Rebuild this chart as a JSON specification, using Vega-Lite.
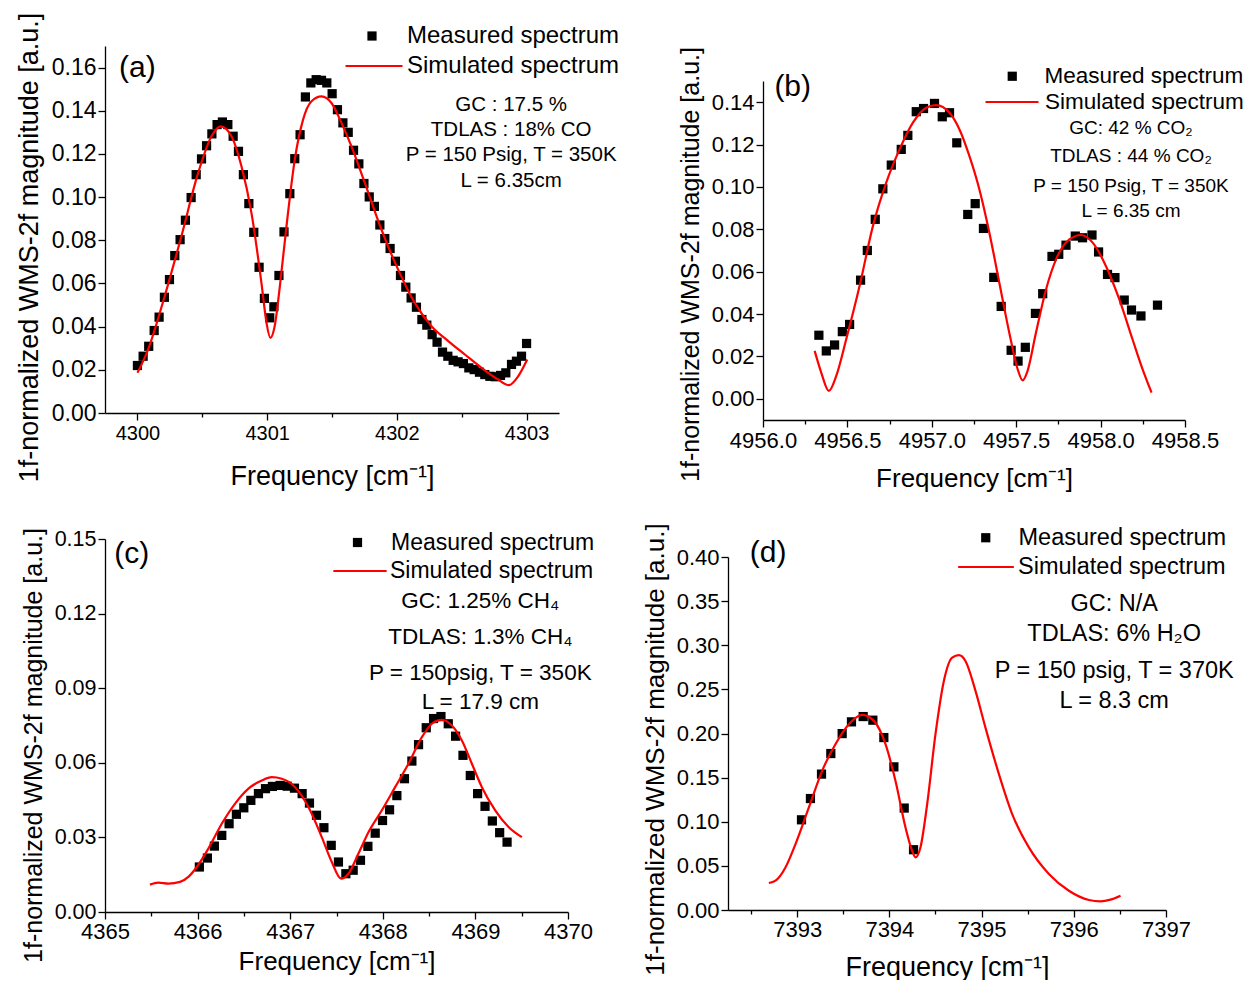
{
  "$schema": "https://vega.github.io/schema/vega-lite/v6.json",
  "padding": {"left": 15, "top": 12, "right": 0, "bottom": 0},
  "background": "white",
  "config": {
    "view": {"stroke": null},
    "font": "Liberation Sans",
    "axis": {"domainColor": "black", "domainWidth": 1.3, "tickColor": "black", "tickWidth": 1.3, "labelColor": "black", "titleColor": "black", "titleFontWeight": "normal", "grid": false, "labelFont": "Liberation Sans", "titleFont": "Liberation Sans", "labelOverlap": false, "labelBound": false, "labelFlush": false},
    "legend": {"labelFont": "Liberation Sans", "labelColor": "black", "padding": 0, "labelLimit": 500, "title": null, "orient": "none"}
  },
  "datasets": {
    "a_meas": [
      {"f":4300.000,"v":0.0220},{"f":4300.044,"v":0.0263},{"f":4300.087,"v":0.0309},{"f":4300.129,"v":0.0382},{"f":4300.167,"v":0.0444},{"f":4300.208,"v":0.0536},{"f":4300.247,"v":0.0618},{"f":4300.288,"v":0.0729},{"f":4300.329,"v":0.0803},{"f":4300.370,"v":0.0893},{"f":4300.414,"v":0.0998},{"f":4300.453,"v":0.1104},{"f":4300.494,"v":0.1177},{"f":4300.533,"v":0.1238},{"f":4300.574,"v":0.1293},{"f":4300.614,"v":0.1336},{"f":4300.655,"v":0.1348},{"f":4300.697,"v":0.1336},{"f":4300.738,"v":0.1282},{"f":4300.779,"v":0.1212},{"f":4300.817,"v":0.1104},{"f":4300.859,"v":0.0970},{"f":4300.897,"v":0.0837},{"f":4300.938,"v":0.0675},{"f":4300.979,"v":0.0531},{"f":4301.020,"v":0.0441},{"f":4301.052,"v":0.0492},{"f":4301.091,"v":0.0637},{"f":4301.130,"v":0.0839},{"f":4301.175,"v":0.1016},{"f":4301.213,"v":0.1178},{"f":4301.254,"v":0.1289},{"f":4301.295,"v":0.1464},{"f":4301.337,"v":0.1529},{"f":4301.378,"v":0.1544},{"f":4301.419,"v":0.1541},{"f":4301.460,"v":0.1529},{"f":4301.501,"v":0.1479},{"f":4301.542,"v":0.1405},{"f":4301.584,"v":0.1344},{"f":4301.625,"v":0.1300},{"f":4301.666,"v":0.1217},{"f":4301.707,"v":0.1154},{"f":4301.746,"v":0.1063},{"f":4301.787,"v":0.1001},{"f":4301.827,"v":0.0957},{"f":4301.869,"v":0.0871},{"f":4301.907,"v":0.0808},{"f":4301.948,"v":0.0762},{"f":4301.989,"v":0.0703},{"f":4302.028,"v":0.0637},{"f":4302.069,"v":0.0583},{"f":4302.110,"v":0.0533},{"f":4302.151,"v":0.0490},{"f":4302.193,"v":0.0433},{"f":4302.231,"v":0.0407},{"f":4302.272,"v":0.0363},{"f":4302.310,"v":0.0328},{"f":4302.352,"v":0.0282},{"f":4302.393,"v":0.0263},{"f":4302.434,"v":0.0244},{"f":4302.472,"v":0.0237},{"f":4302.513,"v":0.0229},{"f":4302.555,"v":0.0209},{"f":4302.596,"v":0.0201},{"f":4302.637,"v":0.0189},{"f":4302.678,"v":0.0178},{"f":4302.717,"v":0.0170},{"f":4302.758,"v":0.0168},{"f":4302.799,"v":0.0174},{"f":4302.840,"v":0.0186},{"f":4302.884,"v":0.0225},{"f":4302.922,"v":0.0240},{"f":4302.961,"v":0.0263},{"f":4303.000,"v":0.0322}
    ],
    "a_sim": [
      {"f":4300.000,"v":0.0186},{"f":4300.082,"v":0.0294},{"f":4300.210,"v":0.0541},{"f":4300.339,"v":0.0819},{"f":4300.468,"v":0.1112},{"f":4300.571,"v":0.1282},{"f":4300.643,"v":0.1328},{"f":4300.725,"v":0.1282},{"f":4300.802,"v":0.1143},{"f":4300.879,"v":0.0927},{"f":4300.956,"v":0.0603},{"f":4300.995,"v":0.0418},{"f":4301.025,"v":0.0348},{"f":4301.058,"v":0.0402},{"f":4301.098,"v":0.0587},{"f":4301.149,"v":0.0865},{"f":4301.213,"v":0.1174},{"f":4301.277,"v":0.1359},{"f":4301.342,"v":0.1444},{"f":4301.419,"v":0.1467},{"f":4301.496,"v":0.1436},{"f":4301.573,"v":0.1344},{"f":4301.650,"v":0.1235},{"f":4301.753,"v":0.1066},{"f":4301.881,"v":0.0850},{"f":4302.010,"v":0.0664},{"f":4302.138,"v":0.0510},{"f":4302.267,"v":0.0402},{"f":4302.396,"v":0.0333},{"f":4302.524,"v":0.0271},{"f":4302.653,"v":0.0209},{"f":4302.781,"v":0.0155},{"f":4302.863,"v":0.0129},{"f":4302.935,"v":0.0170},{"f":4303.005,"v":0.0248}
    ],
    "b_meas": [
      {"f":4956.331,"v":0.0300},{"f":4956.375,"v":0.0226},{"f":4956.424,"v":0.0254},{"f":4956.470,"v":0.0317},{"f":4956.513,"v":0.0351},{"f":4956.578,"v":0.0560},{"f":4956.618,"v":0.0700},{"f":4956.665,"v":0.0847},{"f":4956.710,"v":0.0991},{"f":4956.760,"v":0.1103},{"f":4956.819,"v":0.1177},{"f":4956.858,"v":0.1243},{"f":4956.908,"v":0.1355},{"f":4956.951,"v":0.1370},{"f":4957.016,"v":0.1394},{"f":4957.062,"v":0.1331},{"f":4957.105,"v":0.1350},{"f":4957.148,"v":0.1208},{"f":4957.213,"v":0.0870},{"f":4957.257,"v":0.0921},{"f":4957.306,"v":0.0804},{"f":4957.367,"v":0.0573},{"f":4957.411,"v":0.0436},{"f":4957.470,"v":0.0229},{"f":4957.511,"v":0.0178},{"f":4957.554,"v":0.0243},{"f":4957.614,"v":0.0403},{"f":4957.657,"v":0.0496},{"f":4957.712,"v":0.0672},{"f":4957.752,"v":0.0682},{"f":4957.795,"v":0.0725},{"f":4957.850,"v":0.0768},{"f":4957.893,"v":0.0760},{"f":4957.949,"v":0.0773},{"f":4957.988,"v":0.0693},{"f":4958.041,"v":0.0587},{"f":4958.085,"v":0.0572},{"f":4958.140,"v":0.0466},{"f":4958.183,"v":0.0419},{"f":4958.239,"v":0.0391},{"f":4958.337,"v":0.0442}
    ],
    "b_sim": [
      {"f":4956.306,"v":0.0226},{"f":4956.345,"v":0.0124},{"f":4956.390,"v":0.0037},{"f":4956.434,"v":0.0108},{"f":4956.493,"v":0.0281},{"f":4956.572,"v":0.0532},{"f":4956.651,"v":0.0815},{"f":4956.730,"v":0.1020},{"f":4956.809,"v":0.1177},{"f":4956.888,"v":0.1303},{"f":4956.967,"v":0.1374},{"f":4957.026,"v":0.1386},{"f":4957.105,"v":0.1350},{"f":4957.164,"v":0.1271},{"f":4957.223,"v":0.1145},{"f":4957.282,"v":0.0988},{"f":4957.341,"v":0.0784},{"f":4957.400,"v":0.0548},{"f":4957.459,"v":0.0312},{"f":4957.509,"v":0.0139},{"f":4957.538,"v":0.0087},{"f":4957.567,"v":0.0131},{"f":4957.617,"v":0.0312},{"f":4957.677,"v":0.0517},{"f":4957.736,"v":0.0658},{"f":4957.815,"v":0.0752},{"f":4957.884,"v":0.0773},{"f":4957.953,"v":0.0737},{"f":4958.032,"v":0.0626},{"f":4958.111,"v":0.0469},{"f":4958.189,"v":0.0281},{"f":4958.249,"v":0.0139},{"f":4958.302,"v":0.0029}
    ],
    "c_meas": [
      {"f":4366.019,"v":0.0181},{"f":4366.106,"v":0.0217},{"f":4366.181,"v":0.0265},{"f":4366.261,"v":0.0308},{"f":4366.340,"v":0.0355},{"f":4366.419,"v":0.0393},{"f":4366.499,"v":0.0419},{"f":4366.575,"v":0.0449},{"f":4366.657,"v":0.0476},{"f":4366.733,"v":0.0496},{"f":4366.808,"v":0.0505},{"f":4366.891,"v":0.0509},{"f":4366.967,"v":0.0506},{"f":4367.046,"v":0.0498},{"f":4367.129,"v":0.0476},{"f":4367.208,"v":0.0438},{"f":4367.284,"v":0.0389},{"f":4367.364,"v":0.0339},{"f":4367.443,"v":0.0268},{"f":4367.521,"v":0.0201},{"f":4367.601,"v":0.0154},{"f":4367.680,"v":0.0168},{"f":4367.759,"v":0.0208},{"f":4367.839,"v":0.0264},{"f":4367.918,"v":0.0317},{"f":4367.997,"v":0.0368},{"f":4368.073,"v":0.0411},{"f":4368.152,"v":0.0468},{"f":4368.234,"v":0.0536},{"f":4368.314,"v":0.0607},{"f":4368.386,"v":0.0673},{"f":4368.469,"v":0.0741},{"f":4368.548,"v":0.0778},{"f":4368.628,"v":0.0786},{"f":4368.707,"v":0.0757},{"f":4368.786,"v":0.0707},{"f":4368.866,"v":0.0630},{"f":4368.945,"v":0.0549},{"f":4369.024,"v":0.0476},{"f":4369.104,"v":0.0425},{"f":4369.183,"v":0.0366},{"f":4369.262,"v":0.0319},{"f":4369.342,"v":0.0281}
    ],
    "c_sim": [
      {"f":4365.486,"v":0.0110},{"f":4365.576,"v":0.0118},{"f":4365.684,"v":0.0114},{"f":4365.811,"v":0.0121},{"f":4365.900,"v":0.0141},{"f":4365.991,"v":0.0181},{"f":4366.116,"v":0.0255},{"f":4366.261,"v":0.0355},{"f":4366.405,"v":0.0436},{"f":4366.549,"v":0.0496},{"f":4366.693,"v":0.0529},{"f":4366.801,"v":0.0542},{"f":4366.909,"v":0.0536},{"f":4367.053,"v":0.0502},{"f":4367.197,"v":0.0422},{"f":4367.341,"v":0.0301},{"f":4367.449,"v":0.0201},{"f":4367.550,"v":0.0134},{"f":4367.629,"v":0.0154},{"f":4367.737,"v":0.0235},{"f":4367.845,"v":0.0321},{"f":4367.990,"v":0.0409},{"f":4368.133,"v":0.0502},{"f":4368.277,"v":0.0596},{"f":4368.422,"v":0.0703},{"f":4368.530,"v":0.0757},{"f":4368.638,"v":0.0773},{"f":4368.746,"v":0.0750},{"f":4368.854,"v":0.0690},{"f":4368.962,"v":0.0596},{"f":4369.070,"v":0.0502},{"f":4369.214,"v":0.0409},{"f":4369.358,"v":0.0342},{"f":4369.502,"v":0.0301}
    ],
    "d_meas": [
      {"f":7393.047,"v":0.1022},{"f":7393.144,"v":0.1263},{"f":7393.264,"v":0.1540},{"f":7393.365,"v":0.1773},{"f":7393.488,"v":0.1999},{"f":7393.589,"v":0.2132},{"f":7393.716,"v":0.2192},{"f":7393.821,"v":0.2151},{"f":7393.940,"v":0.1954},{"f":7394.049,"v":0.1622},{"f":7394.161,"v":0.1155},{"f":7394.262,"v":0.0683}
    ],
    "d_sim": [
      {"f":7392.693,"v":0.0306},{"f":7392.765,"v":0.0332},{"f":7392.873,"v":0.0482},{"f":7392.982,"v":0.0747},{"f":7393.127,"v":0.1162},{"f":7393.271,"v":0.1577},{"f":7393.415,"v":0.1879},{"f":7393.561,"v":0.2106},{"f":7393.705,"v":0.2211},{"f":7393.832,"v":0.2143},{"f":7393.958,"v":0.1879},{"f":7394.066,"v":0.1464},{"f":7394.175,"v":0.0935},{"f":7394.247,"v":0.0671},{"f":7394.283,"v":0.0596},{"f":7394.337,"v":0.0709},{"f":7394.410,"v":0.1200},{"f":7394.500,"v":0.1993},{"f":7394.591,"v":0.2596},{"f":7394.681,"v":0.2860},{"f":7394.754,"v":0.2887},{"f":7394.825,"v":0.2822},{"f":7394.934,"v":0.2483},{"f":7395.042,"v":0.2067},{"f":7395.188,"v":0.1540},{"f":7395.332,"v":0.1087},{"f":7395.513,"v":0.0709},{"f":7395.730,"v":0.0408},{"f":7395.947,"v":0.0218},{"f":7396.164,"v":0.0113},{"f":7396.290,"v":0.0097},{"f":7396.398,"v":0.0117},{"f":7396.507,"v":0.0162}
    ]
  },
  "resolve": {"scale": {"fill": "independent", "stroke": "independent"}, "legend": {"fill": "independent", "stroke": "independent"}},
  "spacing": 31,
  "vconcat": [
    {
      "spacing": 58,
      "resolve": {"scale": {"fill": "independent", "stroke": "independent"}, "legend": {"fill": "independent", "stroke": "independent"}},
      "hconcat": [
        {
          "width": 454, "height": 367,
          "layer": [
            {
              "data": {"name": "a_meas"},
              "mark": {"type": "point", "shape": "square", "filled": true, "size": 85, "opacity": 1},
              "encoding": {
                "x": {"field": "f", "type": "quantitative", "title": "Frequency [cm⁻¹]",
                  "scale": {"domain": [4299.75, 4303.25], "nice": false, "zero": false},
                  "axis": {"values": [4300, 4300.5, 4301, 4301.5, 4302, 4302.5, 4303], "labelExpr": "datum.value % 1 === 0 ? format(datum.value, 'd') : ''", "tickSize": {"condition": {"test": "datum.value % 1 === 0", "value": 7}, "value": 4}, "labelFontSize": 20, "labelPadding": 3, "titleFontSize": 27, "titlePadding": 20}},
                "y": {"field": "v", "type": "quantitative", "title": "1f-normalized WMS-2f magnitude [a.u.]",
                  "scale": {"domain": [0, 0.17], "nice": false, "zero": false},
                  "axis": {"values": [0,0.01,0.02,0.03,0.04,0.05,0.06,0.07,0.08,0.09,0.1,0.11,0.12,0.13,0.14,0.15,0.16,0.17], "labelExpr": "round(datum.value*100) % 2 === 0 ? format(datum.value, '.2f') : ''", "tickSize": {"condition": {"test": "round(datum.value*100) % 2 === 0", "value": 7}, "value": 4}, "labelFontSize": 23, "labelPadding": 2, "titleFontSize": 27, "titlePadding": 8, "titleY": 201}},
                "fill": {"datum": "Measured spectrum", "type": "nominal", "scale": {"range": ["black"]},
                  "legend": {"legendX": 255, "legendY": -22, "labelFontSize": 24, "labelOffset": 23, "symbolType": "square", "symbolSize": 85}}
              }
            },
            {
              "data": {"name": "a_sim"},
              "mark": {"type": "line", "strokeWidth": 2.2, "interpolate": "monotone"},
              "encoding": {
                "x": {"field": "f", "type": "quantitative"},
                "y": {"field": "v", "type": "quantitative"},
                "stroke": {"datum": "Simulated spectrum", "type": "nominal", "scale": {"range": ["red"]},
                  "legend": {"legendX": 239, "legendY": -10, "labelFontSize": 24, "labelOffset": 3, "symbolType": "stroke", "symbolSize": 3249, "symbolStrokeWidth": 2.2}}
              }
            },
            {
              "data": {"values": [{"f": 4302.881, "v": 0.1428, "label": "GC : 17.5 %"}, {"f": 4302.881, "v": 0.1312, "label": "TDLAS : 18% CO"}, {"f": 4302.881, "v": 0.1197, "label": "P = 150 Psig, T = 350K"}, {"f": 4302.881, "v": 0.1073, "label": "L = 6.35cm"}]},
              "mark": {"type": "text", "fontSize": 20.5, "align": "center", "baseline": "middle", "color": "black"},
              "encoding": {"x": {"field": "f", "type": "quantitative"}, "y": {"field": "v", "type": "quantitative"}, "text": {"field": "label"}}
            },
            {
              "data": {"values": [{"f": 4300.0, "v": 0.160, "label": "(a)"}]},
              "mark": {"type": "text", "fontSize": 30, "align": "center", "baseline": "middle", "color": "black"},
              "encoding": {"x": {"field": "f", "type": "quantitative"}, "y": {"field": "v", "type": "quantitative"}, "text": {"field": "label"}}
            }
          ]
        },
        {
          "width": 422, "height": 374,
          "layer": [
            {
              "data": {"name": "b_meas"},
              "mark": {"type": "point", "shape": "square", "filled": true, "size": 85, "opacity": 1},
              "encoding": {
                "x": {"field": "f", "type": "quantitative", "title": "Frequency [cm⁻¹]",
                  "scale": {"domain": [4956, 4958.5], "nice": false, "zero": false},
                  "axis": {"values": [4956, 4956.25, 4956.5, 4956.75, 4957, 4957.25, 4957.5, 4957.75, 4958, 4958.25, 4958.5], "labelExpr": "(datum.value*2) % 1 === 0 ? format(datum.value, '.1f') : ''", "tickSize": {"condition": {"test": "(datum.value*2) % 1 === 0", "value": 7}, "value": 4}, "labelFontSize": 22, "labelPadding": 3, "titleFontSize": 26, "titlePadding": 14}},
                "y": {"field": "v", "type": "quantitative", "title": "1f-normalized WMS-2f magnitude [a.u.]",
                  "scale": {"domain": [-0.01, 0.1665], "nice": false, "zero": false},
                  "axis": {"values": [0,0.01,0.02,0.03,0.04,0.05,0.06,0.07,0.08,0.09,0.1,0.11,0.12,0.13,0.14,0.15], "labelExpr": "round(datum.value*100) % 2 === 0 ? format(datum.value, '.2f') : ''", "tickSize": {"condition": {"test": "round(datum.value*100) % 2 === 0", "value": 7}, "value": 4}, "labelFontSize": 22, "labelPadding": 2, "titleFontSize": 25, "titlePadding": 8, "titleY": 218, "domainDash": [339, 2000]}},
                "fill": {"datum": "Measured spectrum", "type": "nominal", "scale": {"range": ["black"]},
                  "legend": {"legendX": 238, "legendY": 19, "labelFontSize": 22.5, "labelOffset": 21, "symbolType": "square", "symbolSize": 85}}
              }
            },
            {
              "data": {"name": "b_sim"},
              "mark": {"type": "line", "strokeWidth": 2.2, "interpolate": "monotone"},
              "encoding": {
                "x": {"field": "f", "type": "quantitative"},
                "y": {"field": "v", "type": "quantitative"},
                "stroke": {"datum": "Simulated spectrum", "type": "nominal", "scale": {"range": ["red"]},
                  "legend": {"legendX": 221, "legendY": 28, "labelFontSize": 22.5, "labelOffset": 5, "symbolType": "stroke", "symbolSize": 2809, "symbolStrokeWidth": 2.2}}
              }
            },
            {
              "data": {"values": [{"f": 4958.18, "v": 0.1279, "label": "GC: 42 % CO₂"}, {"f": 4958.18, "v": 0.1145, "label": "TDLAS : 44 % CO₂"}, {"f": 4958.18, "v": 0.1004, "label": "P = 150 Psig, T = 350K"}, {"f": 4958.18, "v": 0.0886, "label": "L = 6.35 cm"}]},
              "mark": {"type": "text", "fontSize": 19, "align": "center", "baseline": "middle", "color": "black"},
              "encoding": {"x": {"field": "f", "type": "quantitative"}, "y": {"field": "v", "type": "quantitative"}, "text": {"field": "label"}}
            },
            {
              "data": {"values": [{"f": 4956.176, "v": 0.147, "label": "(b)"}]},
              "mark": {"type": "text", "fontSize": 30, "align": "center", "baseline": "middle", "color": "black"},
              "encoding": {"x": {"field": "f", "type": "quantitative"}, "y": {"field": "v", "type": "quantitative"}, "text": {"field": "label"}}
            }
          ]
        }
      ]
    },
    {
      "spacing": 47,
      "resolve": {"scale": {"fill": "independent", "stroke": "independent"}, "legend": {"fill": "independent", "stroke": "independent"}},
      "hconcat": [
        {
          "width": 463, "height": 373,
          "layer": [
            {
              "data": {"name": "c_meas"},
              "mark": {"type": "point", "shape": "square", "filled": true, "size": 85, "opacity": 1},
              "encoding": {
                "x": {"field": "f", "type": "quantitative", "title": "Frequency [cm⁻¹]",
                  "scale": {"domain": [4365, 4370], "nice": false, "zero": false},
                  "axis": {"values": [4365, 4365.5, 4366, 4366.5, 4367, 4367.5, 4368, 4368.5, 4369, 4369.5, 4370], "labelExpr": "datum.value % 1 === 0 ? format(datum.value, 'd') : ''", "tickSize": {"condition": {"test": "datum.value % 1 === 0", "value": 7}, "value": 4}, "labelFontSize": 22, "labelPadding": 2, "titleFontSize": 26, "titlePadding": 6}},
                "y": {"field": "v", "type": "quantitative", "title": "1f-normalized WMS-2f magnitude [a.u.]",
                  "scale": {"domain": [0, 0.15], "nice": false, "zero": false},
                  "axis": {"values": [0,0.015,0.03,0.045,0.06,0.075,0.09,0.105,0.12,0.135,0.15], "labelExpr": "round(datum.value*1000) % 30 === 0 ? format(datum.value, '.2f') : ''", "tickSize": {"condition": {"test": "round(datum.value*1000) % 30 === 0", "value": 7}, "value": 4}, "labelFontSize": 21.5, "labelPadding": 2, "titleFontSize": 25, "titlePadding": 8, "titleY": 206}},
                "fill": {"datum": "Measured spectrum", "type": "nominal", "scale": {"range": ["black"]},
                  "legend": {"legendX": 241, "legendY": -8, "labelFontSize": 23, "labelOffset": 22, "symbolType": "square", "symbolSize": 85}}
              }
            },
            {
              "data": {"name": "c_sim"},
              "mark": {"type": "line", "strokeWidth": 2.2, "interpolate": "monotone"},
              "encoding": {
                "x": {"field": "f", "type": "quantitative"},
                "y": {"field": "v", "type": "quantitative"},
                "stroke": {"datum": "Simulated spectrum", "type": "nominal", "scale": {"range": ["red"]},
                  "legend": {"legendX": 227, "legendY": 4, "labelFontSize": 23, "labelOffset": 2, "symbolType": "stroke", "symbolSize": 2841, "symbolStrokeWidth": 2.2}}
              }
            },
            {
              "data": {"values": [{"f": 4369.053, "v": 0.1252, "label": "GC: 1.25% CH₄"}, {"f": 4369.053, "v": 0.1105, "label": "TDLAS: 1.3% CH₄"}, {"f": 4369.053, "v": 0.0963, "label": "P = 150psig, T = 350K"}, {"f": 4369.053, "v": 0.0844, "label": "L = 17.9 cm"}]},
              "mark": {"type": "text", "fontSize": 22.5, "align": "center", "baseline": "middle", "color": "black"},
              "encoding": {"x": {"field": "f", "type": "quantitative"}, "y": {"field": "v", "type": "quantitative"}, "text": {"field": "label"}}
            },
            {
              "data": {"values": [{"f": 4365.29, "v": 0.1441, "label": "(c)"}]},
              "mark": {"type": "text", "fontSize": 30, "align": "center", "baseline": "middle", "color": "black"},
              "encoding": {"x": {"field": "f", "type": "quantitative"}, "y": {"field": "v", "type": "quantitative"}, "text": {"field": "label"}}
            }
          ]
        },
        {
          "width": 438, "height": 371,
          "layer": [
            {
              "data": {"name": "d_meas"},
              "mark": {"type": "point", "shape": "square", "filled": true, "size": 85, "opacity": 1},
              "encoding": {
                "x": {"field": "f", "type": "quantitative", "title": "Frequency [cm⁻¹]",
                  "scale": {"domain": [7392.25, 7397], "nice": false, "zero": false},
                  "axis": {"values": [7392.5, 7393, 7393.5, 7394, 7394.5, 7395, 7395.5, 7396, 7396.5, 7397], "labelExpr": "datum.value % 1 === 0 ? format(datum.value, 'd') : ''", "tickSize": {"condition": {"test": "datum.value % 1 === 0", "value": 7}, "value": 4}, "labelFontSize": 22, "labelPadding": 2, "titleFontSize": 27, "titlePadding": 14}},
                "y": {"field": "v", "type": "quantitative", "title": "1f-normalized WMS-2f magnitude [a.u.]",
                  "scale": {"domain": [0, 0.4204], "nice": false, "zero": false},
                  "axis": {"values": [0,0.025,0.05,0.075,0.1,0.125,0.15,0.175,0.2,0.225,0.25,0.275,0.3,0.325,0.35,0.375,0.4], "labelExpr": "round(datum.value*1000) % 50 === 0 ? format(datum.value, '.2f') : ''", "tickSize": {"condition": {"test": "round(datum.value*1000) % 50 === 0", "value": 7}, "value": 4}, "labelFontSize": 22, "labelPadding": 2, "titleFontSize": 26, "titlePadding": 8, "titleY": 210, "domainDash": [353, 2000]}},
                "fill": {"datum": "Measured spectrum", "type": "nominal", "scale": {"range": ["black"]},
                  "legend": {"legendX": 246, "legendY": -13, "labelFontSize": 23.5, "labelOffset": 21, "symbolType": "square", "symbolSize": 85}}
              }
            },
            {
              "data": {"name": "d_sim"},
              "mark": {"type": "line", "strokeWidth": 2.2, "interpolate": "monotone"},
              "encoding": {
                "x": {"field": "f", "type": "quantitative"},
                "y": {"field": "v", "type": "quantitative"},
                "stroke": {"datum": "Simulated spectrum", "type": "nominal", "scale": {"range": ["red"]},
                  "legend": {"legendX": 229, "legendY": -1, "labelFontSize": 23.5, "labelOffset": 3, "symbolType": "stroke", "symbolSize": 3102, "symbolStrokeWidth": 2.2}}
              }
            },
            {
              "data": {"values": [{"f": 7396.438, "v": 0.3464, "label": "GC: N/A"}, {"f": 7396.438, "v": 0.3128, "label": "TDLAS: 6% H₂O"}, {"f": 7396.438, "v": 0.2709, "label": "P = 150 psig, T = 370K"}, {"f": 7396.438, "v": 0.2370, "label": "L = 8.3 cm"}]},
              "mark": {"type": "text", "fontSize": 23.5, "align": "center", "baseline": "middle", "color": "black"},
              "encoding": {"x": {"field": "f", "type": "quantitative"}, "y": {"field": "v", "type": "quantitative"}, "text": {"field": "label"}}
            },
            {
              "data": {"values": [{"f": 7392.685, "v": 0.4045, "label": "(d)"}]},
              "mark": {"type": "text", "fontSize": 30, "align": "center", "baseline": "middle", "color": "black"},
              "encoding": {"x": {"field": "f", "type": "quantitative"}, "y": {"field": "v", "type": "quantitative"}, "text": {"field": "label"}}
            }
          ]
        }
      ]
    }
  ]
}
